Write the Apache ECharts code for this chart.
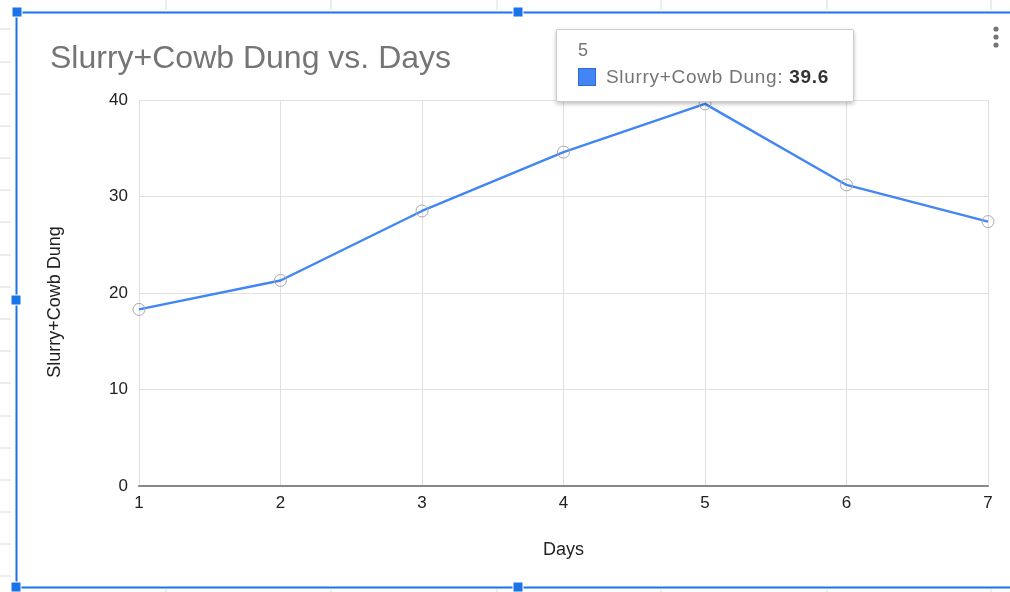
<!DOCTYPE html>
<html>
<head>
<meta charset="utf-8">
<script src="https://cdn.jsdelivr.net/npm/echarts@6/dist/echarts.min.js"></script>
<style>
html,body{margin:0;padding:0;background:#fff;}
#c{width:1010px;height:592px;}
</style>
</head>
<body>
<div id="c"></div>
<script>
const days = [1, 2, 3, 4, 5, 6, 7];
const slurryCowDung = [18.3, 21.3, 28.5, 34.6, 39.6, 31.2, 27.4];
const yTicks = [0, 10, 20, 30, 40];
const chartTitle = 'Slurry+Cowb Dung vs. Days';
const seriesName = 'Slurry+Cowb Dung';
const xName = 'Days';

const FONT = '"Liberation Sans", Arial, sans-serif';
const chart = echarts.init(document.getElementById('c'), null, {renderer: 'canvas'});

const frameColor = '#1a73e8';
const g = [];
// spreadsheet cell grid ticks outside the chart frame
const rowYs = [29, 62, 94, 126, 158, 190, 222, 255, 287, 319, 351, 383, 416, 448, 480, 512, 544, 576];
rowYs.forEach(y => g.push({type: 'line', shape: {x1: 0, y1: y, x2: 11, y2: y}, style: {stroke: '#dadada', lineWidth: 1}, z: 1}));
const colXs = [166, 331, 497, 661, 827, 991];
colXs.forEach(x => {
  g.push({type: 'line', shape: {x1: x, y1: 0, x2: x, y2: 10}, style: {stroke: '#dadada', lineWidth: 1}, z: 1});
  g.push({type: 'line', shape: {x1: x, y1: 589, x2: x, y2: 592}, style: {stroke: '#dadada', lineWidth: 1}, z: 1});
});
// frame lines
g.push({type: 'line', shape: {x1: 17, y1: 12.5, x2: 1010, y2: 12.5}, style: {stroke: frameColor, lineWidth: 2}, z: 5});
g.push({type: 'line', shape: {x1: 16.5, y1: 12, x2: 16.5, y2: 592}, style: {stroke: frameColor, lineWidth: 2}, z: 5});
g.push({type: 'line', shape: {x1: 16, y1: 587.5, x2: 1010, y2: 587.5}, style: {stroke: frameColor, lineWidth: 2}, z: 5});
// handles
[[17, 12], [518, 12], [16, 300], [518, 587], [16, 587]].forEach(p => {
  g.push({type: 'rect', shape: {x: p[0] - 5, y: p[1] - 5, width: 10, height: 10}, style: {fill: frameColor, stroke: '#fff', lineWidth: 1}, z: 6});
});
// kebab menu dots
[29, 37, 45].forEach(y => g.push({type: 'circle', shape: {cx: 996, cy: y, r: 2.6}, style: {fill: '#757575'}, z: 5}));

chart.setOption({
  animation: false,
  backgroundColor: '#fff',
  title: {
    text: chartTitle,
    left: 45, top: 38,
    textStyle: {fontFamily: FONT, fontSize: 32, fontWeight: 'normal', color: '#757575'}
  },
  grid: {left: 139, right: 22, top: 100, bottom: 106, containLabel: false},
  tooltip: {
    trigger: 'item',
    alwaysShowContent: true,
    transitionDuration: 0,
    showDelay: 0,
    position: function () { return [556, 29]; },
    backgroundColor: '#fff',
    borderColor: '#cccccc',
    borderWidth: 1,
    borderRadius: 2,
    padding: 0,
    extraCssText: 'box-shadow: 0 2px 4px rgba(0,0,0,0.25); width:298px; height:73px; box-sizing:border-box;',
    formatter: function (p) {
      return '<div style="font-family:\'Liberation Sans\',Arial,sans-serif;padding:9px 0 0 21px;">' +
        '<div style="color:#757575;font-size:18px;line-height:22px;">' + p.value[0] + '</div>' +
        '<div style="margin-top:5px;font-size:19px;line-height:22px;color:#757575;white-space:nowrap;letter-spacing:0.7px;">' +
        '<span style="display:inline-block;width:16px;height:16px;background:#4285f4;border:1px solid #3367d6;vertical-align:-3px;margin-right:10px;"></span>' +
        p.seriesName + ': <b style="color:#333;">' + p.value[1] + '</b></div></div>';
    }
  },
  xAxis: {
    type: 'value',
    min: days[0], max: days[days.length - 1], interval: 1,
    name: xName, nameLocation: 'middle', nameGap: 55,
    nameTextStyle: {fontFamily: FONT, fontSize: 18, color: '#222'},
    axisLine: {show: true, onZero: false, lineStyle: {color: '#888', width: 2}},
    axisTick: {show: false},
    axisLabel: {fontFamily: FONT, fontSize: 17, color: '#222', margin: 9},
    splitLine: {show: true, lineStyle: {color: '#e0e0e0', width: 1}}
  },
  yAxis: {
    type: 'value',
    min: yTicks[0], max: yTicks[yTicks.length - 1], interval: 10,
    name: seriesName, nameLocation: 'middle', nameGap: 75, nameRotate: 90,
    nameTextStyle: {fontFamily: FONT, fontSize: 18, color: '#222', padding: [0, 18, 0, 0]},
    axisLine: {show: false},
    axisTick: {show: false},
    axisLabel: {fontFamily: FONT, fontSize: 17, color: '#222', margin: 11},
    splitLine: {show: true, lineStyle: {color: '#e0e0e0', width: 1}}
  },
  series: [{
    name: seriesName,
    type: 'line',
    data: days.map((d, i) => [d, slurryCowDung[i]]),
    color: '#4285f4',
    lineStyle: {color: '#4285f4', width: 2.4},
    symbol: 'circle',
    symbolSize: 12,
    showAllSymbol: true,
    itemStyle: {color: 'rgba(255,255,255,0)', borderColor: '#aaaaaa', borderWidth: 1},
    emphasis: {disabled: true},
    z: 3
  }],
  graphic: g
});
chart.dispatchAction({type: 'showTip', seriesIndex: 0, dataIndex: 4});
</script>
</body>
</html>
